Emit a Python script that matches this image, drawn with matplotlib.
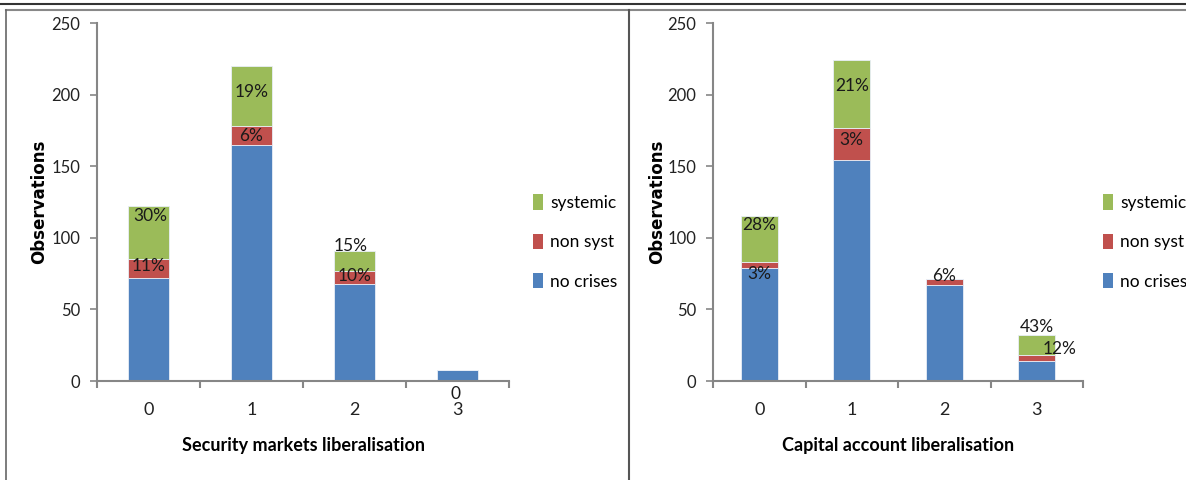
import matplotlib.pyplot as plt
from matplotlib.lines import Line2D
from matplotlib.patches import Patch
import numpy as np

plt.rcParams['font.family'] = ['Lato', 'DejaVu Sans']

categories = ['0', '1', '2', '3']
series_names = ['no crises', 'non syst', 'systemic']
colors = ['#4F81BD', '#C0504D', '#9BBB59']

# security markets liberalisation
sec_no_crises = [72, 165, 68, 8]
sec_non_syst = [13, 13, 9, 0]
sec_systemic = [37, 42, 14, 0]
sec_labels = ['30%', '11%', '19%', '6%', '15%', '10%', '0']
sec_label_cat = [0, 0, 1, 1, 2, 2, 3]
sec_label_x = [0.02, 0.0, 0.0, 0.0, -0.04, 0.0, -0.02]
sec_label_y = [115, 80, 202, 171, 94, 73, -9]

# capital account liberalisation
cap_no_crises = [79, 154, 67, 14]
cap_non_syst = [4, 23, 4, 4]
cap_systemic = [32, 47, 0, 14]
cap_labels = ['28%', '3%', '21%', '3%', '6%', '43%', '12%']
cap_label_cat = [0, 0, 1, 1, 2, 3, 3]
cap_label_x = [0.0, 0.0, 0.0, 0.0, 0.0, 0.0, 0.25]
cap_label_y = [109, 75, 206, 168, 73, 38, 22]

fig = plt.figure(figsize=(11.86, 4.8), dpi=100)
W, H = 1186, 480


def px_axes(x0, y0, x1, y1):
    return fig.add_axes([x0 / W, 1 - y1 / H, (x1 - x0) / W, (y1 - y0) / H])


def draw_panel(ax, stacks, labels, lab_cat, lab_dx, lab_y, xlabel, ylab_x):
    x = np.arange(len(categories))
    bottom = np.zeros(len(categories))
    for vals, c in zip(stacks, colors):
        ax.bar(x, vals, 0.4, bottom=bottom, color=c, edgecolor='#e8eef7',
               linewidth=0.6)
        bottom += np.array(vals)
    for t, c, dx, y in zip(labels, lab_cat, lab_dx, lab_y):
        ax.text(c + dx, y, t, ha='center', va='center', fontsize=12.5,
                color='#1a1a1a', clip_on=False)
    ax.set_xlim(-0.5, 3.5)
    ax.set_ylim(0, 250)
    ax.set_yticks([0, 50, 100, 150, 200, 250])
    ax.set_xticks(x)
    ax.set_xticklabels(categories)
    ax.set_xticks([-0.5, 0.5, 1.5, 2.5, 3.5], minor=True)
    ax.tick_params(axis='x', which='major', length=0, pad=15, labelsize=13,
                   labelcolor='#222222')
    ax.tick_params(axis='x', which='minor', length=5, color='#868686',
                   width=1.5, direction='out')
    ax.tick_params(axis='y', length=5, color='#868686', width=1.2,
                   labelsize=12, labelcolor='#222222', pad=7)
    for s in ['top', 'right']:
        ax.spines[s].set_visible(False)
    for s in ['left', 'bottom']:
        ax.spines[s].set_color('#868686')
        ax.spines[s].set_linewidth(1.5)
    ax.set_xlabel(xlabel, fontsize=13, fontweight='bold', labelpad=14)
    ax.set_ylabel('Observations', fontsize=12, fontweight='bold',
                  family='DejaVu Sans')
    ax.yaxis.set_label_coords(ylab_x, 0.5)


ax1 = px_axes(97, 23, 509, 381)
draw_panel(ax1, [sec_no_crises, sec_non_syst, sec_systemic], sec_labels,
           sec_label_cat, sec_label_x, sec_label_y,
           'Security markets liberalisation', (48 - 97) / 412)

ax2 = px_axes(713, 23, 1083, 381)
draw_panel(ax2, [cap_no_crises, cap_non_syst, cap_systemic], cap_labels,
           cap_label_cat, cap_label_x, cap_label_y,
           'Capital account liberalisation', (666 - 713) / 370)

handles = [Patch(facecolor=c, edgecolor='none') for c in colors][::-1]
names = series_names[::-1]
for lx in (517, 1087):
    fig.legend(handles, names, loc='center left',
               bbox_to_anchor=(lx / W, 1 - 242 / H), frameon=False,
               fontsize=12.5, handlelength=0.6, handleheight=1.0,
               handletextpad=0.4, labelspacing=1.3)

# frame lines around the two panels
fig.add_artist(Line2D([0, 1], [1 - 4 / H, 1 - 4 / H], color='#333333', lw=1.5))
fig.add_artist(Line2D([6 / W, 1], [1 - 10 / H, 1 - 10 / H], color='#888888', lw=1.5))
fig.add_artist(Line2D([6 / W, 6 / W], [0, 1 - 10 / H], color='#666666', lw=1.2))
fig.add_artist(Line2D([629 / W, 629 / W], [0, 1 - 10 / H], color='#555555', lw=1.5))

fig.savefig('out.png', dpi=100)
